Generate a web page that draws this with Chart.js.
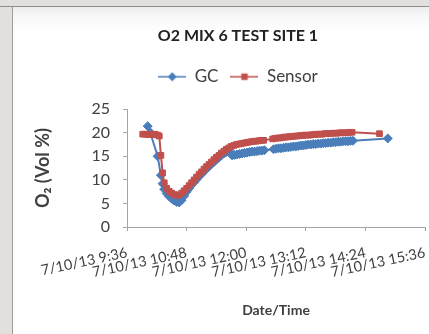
<!DOCTYPE html>
<html>
<head>
<meta charset="utf-8">
<script src="https://cdn.jsdelivr.net/npm/chart.js@4.4.1/dist/chart.umd.min.js"></script>
<style>
    html, body { margin: 0; padding: 0; overflow: hidden; background: #fff; }
    body { width: 429px; height: 334px; position: relative; }
    .edgeLeft { position: absolute; left: 0; top: 0; width: 12px; height: 334px; background: #e2e0dc; border-right: 1px solid #9c9c9c; }
    .edgeTop { position: absolute; left: 0; top: 0; width: 429px; height: 6px; background: #e2e0dc; border-bottom: 1px solid #8e8e8e; }
    .band { position: absolute; left: 13px; top: 7px; width: 416px; height: 26px; background: linear-gradient(#ececec, #f7f7f7 30%, #fff); }
    #chartWrap { position: absolute; left: 12px; top: 6px; width: 417px; height: 328px; overflow: hidden; }
</style>
</head>
<body>
<div class="band"></div>
<div class="edgeLeft"></div>
<div class="edgeTop"></div>
<div id="chartWrap"><canvas id="o2Chart" width="452" height="328"></canvas></div>
<script>
// Sample times (7/10/13) and O2 readings, Vol %
const gcTimes = ['10:01', '10:04', '10:13', '10:17', '10:19', '10:21', '10:24', '10:27', '10:30', '10:33',
    '10:36', '10:39', '10:42', '10:45', '10:48', '10:51', '10:54', '10:57', '11:00', '11:03',
    '11:06', '11:09', '11:12', '11:15', '11:18', '11:21', '11:24', '11:27', '11:30', '11:33',
    '11:36', '11:39', '11:43', '11:46', '11:49', '11:52', '11:55', '11:58', '12:01', '12:04',
    '12:07', '12:10', '12:13', '12:16', '12:19', '12:22', '12:33', '12:36', '12:39', '12:42',
    '12:45', '12:48', '12:51', '12:54', '12:57', '13:00', '13:03', '13:06', '13:09', '13:12',
    '13:15', '13:18', '13:21', '13:24', '13:27', '13:30', '13:33', '13:36', '13:39', '13:42',
    '13:45', '13:48', '13:51', '13:54', '13:57', '14:00', '14:03', '14:06', '14:09', '14:51'];
const gcValues = [21.4, 20.1, 15.0, 11.0, 9.2, 8.0, 7.1, 6.5, 6.0, 5.6,
    5.3, 5.2, 5.7, 6.6, 7.5, 8.2, 8.9, 9.5, 10.1, 10.7,
    11.2, 11.8, 12.3, 12.8, 13.3, 13.8, 14.3, 14.7, 15.2, 15.6,
    15.9, 16.2, 15.2, 15.3, 15.4, 15.5, 15.6, 15.7, 15.8, 15.9,
    16.0, 16.0, 16.1, 16.2, 16.2, 16.3, 16.5, 16.6, 16.7, 16.7,
    16.8, 16.9, 16.9, 17.0, 17.1, 17.1, 17.2, 17.3, 17.3, 17.4,
    17.5, 17.5, 17.6, 17.6, 17.7, 17.7, 17.8, 17.8, 17.9, 17.9,
    18.0, 18.0, 18.1, 18.1, 18.2, 18.2, 18.2, 18.3, 18.3, 18.8];

const sensorTimes = ['9:55', '9:58', '10:01', '10:04', '10:07', '10:10', '10:13', '10:15', '10:17', '10:19',
    '10:21', '10:24', '10:27', '10:30', '10:33', '10:36', '10:39', '10:42', '10:45', '10:48',
    '10:51', '10:54', '10:57', '11:00', '11:03', '11:06', '11:09', '11:12', '11:15', '11:18',
    '11:21', '11:24', '11:27', '11:30', '11:33', '11:36', '11:39', '11:42', '11:45', '11:48',
    '11:51', '11:54', '11:57', '12:00', '12:03', '12:06', '12:09', '12:12', '12:15', '12:18',
    '12:21', '12:32', '12:35', '12:38', '12:41', '12:44', '12:47', '12:50', '12:53', '12:56',
    '12:59', '13:02', '13:05', '13:08', '13:11', '13:14', '13:17', '13:20', '13:23', '13:26',
    '13:29', '13:32', '13:35', '13:38', '13:41', '13:44', '13:47', '13:50', '13:53', '13:56',
    '13:59', '14:02', '14:05', '14:08', '14:41'];
const sensorValues = [19.7, 19.7, 19.6, 19.7, 19.6, 19.7, 19.5, 19.3, 15.2, 11.5,
    9.4, 8.2, 7.6, 7.2, 6.9, 6.7, 6.8, 7.2, 7.7, 8.2,
    8.8, 9.4, 10.0, 10.6, 11.2, 11.7, 12.3, 12.8, 13.3, 13.8,
    14.3, 14.8, 15.2, 15.7, 16.1, 16.5, 16.8, 17.1, 17.3, 17.5,
    17.6, 17.7, 17.8, 17.9, 18.0, 18.1, 18.2, 18.2, 18.3, 18.4,
    18.4, 18.7, 18.8, 18.9, 18.9, 19.0, 19.1, 19.1, 19.2, 19.2,
    19.3, 19.3, 19.4, 19.4, 19.5, 19.5, 19.5, 19.6, 19.6, 19.7,
    19.7, 19.7, 19.8, 19.8, 19.8, 19.9, 19.9, 19.9, 20.0, 20.0,
    20.0, 20.0, 20.1, 20.1, 19.8];

// Axis range: 7/10/13 9:36 to 15:36, every 1h12m
const xMinTime = '9:36';
const xMaxTime = '15:36';
const xStepMinutes = 72;
const datePrefix = '7/10/13';
const yTicks = [0, 5, 10, 15, 20, 25];

const gcColor = '#4a7ebb';
const sensorColor = '#c0504d';
const axisColor = '#a6a6a6';
const textColor = '#404040';

function toMinutes(t) {
    const parts = t.split(':');
    return parseInt(parts[0]) * 60 + parseInt(parts[1]);
}

function timeLabel(m) {
    const mm = m % 60;
    return datePrefix + ' ' + Math.floor(m / 60) + ':' + (mm < 10 ? '0' + mm : mm);
}

function toPoints(times, values) {
    return times.map((t, i) => ({ x: toMinutes(t), y: values[i] }));
}

// Legend swatch: short line with the marker in the middle
function legendSwatch(color, style) {
    const c = document.createElement('canvas');
    c.width = 28;
    c.height = 10;
    const g = c.getContext('2d');
    g.strokeStyle = color;
    g.lineWidth = 1.5;
    g.beginPath();
    g.moveTo(0, 5);
    g.lineTo(28, 5);
    g.stroke();
    Chart.helpers.drawPoint(g, { pointStyle: style, radius: 3.5, borderWidth: 1, rotation: 0 }, 14, 5);
    g.fillStyle = color;
    g.fill();
    return c;
}

const swatches = [legendSwatch(gcColor, 'rectRot'), legendSwatch(sensorColor, 'rect')];

// Stretch the legend box so the plot starts lower
const legendGap = {
    id: 'legendGap',
    beforeInit(chart) {
        const fit = chart.legend.fit;
        chart.legend.fit = function () {
            fit.call(this);
            this.height += 14;
        };
    }
};

const ctx = document.getElementById('o2Chart').getContext('2d');
new Chart(ctx, {
    type: 'line',
    data: {
        datasets: [{
            label: 'GC',
            data: toPoints(gcTimes, gcValues),
            borderColor: gcColor,
            backgroundColor: gcColor,
            borderWidth: 2,
            pointStyle: 'rectRot',
            pointRadius: 4.5,
            pointBorderWidth: 1,
            order: 1
        }, {
            label: 'Sensor',
            data: toPoints(sensorTimes, sensorValues),
            borderColor: sensorColor,
            backgroundColor: sensorColor,
            borderWidth: 2,
            pointStyle: 'rect',
            pointRadius: 4,
            pointBorderWidth: 1,
            order: 0
        }]
    },
    options: {
        responsive: false,
        animation: false,
        devicePixelRatio: 1,
        layout: { padding: { left: 39, right: 39, top: 0, bottom: 0 } },
        plugins: {
            tooltip: { enabled: false },
            title: {
                display: true,
                text: 'O2 MIX 6 TEST SITE 1',
                color: '#222',
                font: { family: 'Lato', size: 16, weight: 'bold' },
                padding: { top: 20, bottom: 11 }
            },
            legend: {
                position: 'top',
                labels: {
                    usePointStyle: true,
                    pointStyleWidth: 28,
                    padding: 12,
                    color: textColor,
                    font: { family: 'Lato', size: 17 },
                    generateLabels(chart) {
                        const items = Chart.defaults.plugins.legend.labels.generateLabels(chart);
                        items.sort((a, b) => a.datasetIndex - b.datasetIndex);
                        items.forEach(item => { item.pointStyle = swatches[item.datasetIndex]; });
                        return items;
                    }
                }
            }
        },
        scales: {
            x: {
                type: 'linear',
                min: toMinutes(xMinTime),
                max: toMinutes(xMaxTime),
                border: { color: axisColor },
                grid: { drawOnChartArea: false, drawTicks: true, tickLength: 4, color: axisColor },
                ticks: {
                    stepSize: xStepMinutes,
                    autoSkip: false,
                    minRotation: 12,
                    maxRotation: 12,
                    padding: 13,
                    color: textColor,
                    font: { family: 'Lato', size: 14.5 },
                    callback: v => timeLabel(v)
                },
                title: {
                    display: true,
                    text: 'Date/Time',
                    color: textColor,
                    font: { family: 'Lato', size: 14, weight: 'bold' },
                    padding: { top: 0, bottom: 15 }
                },
                afterFit: scale => { scale.height = 107; }
            },
            y: {
                min: yTicks[0],
                max: yTicks[yTicks.length - 1],
                border: { color: axisColor },
                grid: { drawOnChartArea: false, drawTicks: true, tickLength: 4, color: axisColor },
                ticks: {
                    stepSize: yTicks[1] - yTicks[0],
                    padding: 13,
                    color: textColor,
                    font: { family: 'Lato', size: 16 }
                },
                title: {
                    display: true,
                    text: 'O\u2082 (Vol %)',
                    color: textColor,
                    font: { family: 'Lato', size: 18, weight: 'bold' },
                    padding: { top: -19, bottom: 0 }
                },
                afterFit: scale => { scale.width = 76; }
            }
        }
    },
    plugins: [legendGap]
});
</script>
</body>
</html>
